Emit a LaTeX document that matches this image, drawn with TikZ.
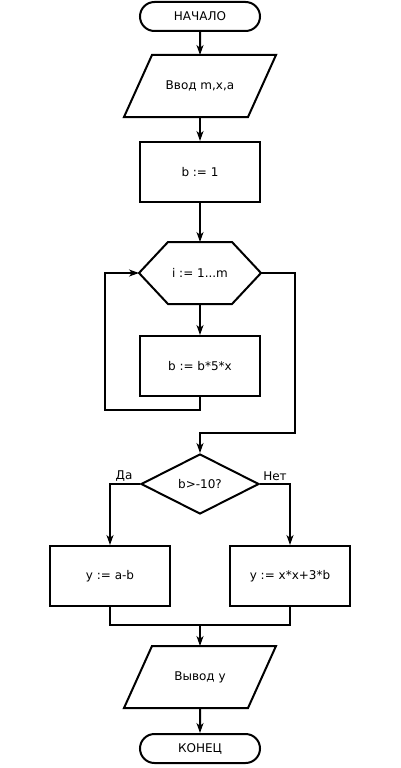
\documentclass[tikz,border=0pt]{standalone}
\usepackage{fontspec}
\setmainfont{DejaVu Sans}
\usetikzlibrary{arrows.meta,shapes.geometric,shapes.misc,calc}

\begin{document}
\begin{tikzpicture}[x=1pt,y=-1pt,
  every node/.style={font=\fontsize{12}{14}\selectfont},
  line/.style={line width=2pt},
  arr/.style={line width=2pt,-{Stealth[length=10pt,width=7pt,inset=3pt]}},
  term/.style={draw,line width=2pt,rounded rectangle,minimum width=120pt,minimum height=29pt,inner sep=0pt},
  io/.style={line width=2pt,minimum width=122pt,minimum height=60pt,inner sep=0pt},
  act/.style={draw,line width=2pt,rectangle,minimum width=120pt,minimum height=60pt,inner sep=0pt},
  cond/.style={draw,line width=2pt,diamond,minimum width=118pt,minimum height=60pt,inner sep=0pt},
  loophead/.style={line width=2pt,minimum width=120pt,minimum height=60pt,inner sep=0pt}]
\fill[white] (0,0) rectangle (400,768);
\node[term] (start) at (200,16.5) {НАЧАЛО};
\node[io] (input) at (200,86) {Ввод m,x,a};
\node[act] (init) at (200,172) {b := 1};
\node[loophead] (loop) at (200,273) {i := 1...m};
\node[act] (body) at (200,366) {b := b*5*x};
\node[cond] (check) at (200,484) {b>-10?};
\node[act] (yes) at (110,576) {y := a-b};
\node[act] (no) at (290,576) {y := x*x+3*b};
\node[io] (output) at (200,677) {Вывод y};
\node[term] (stop) at (200,748.5) {КОНЕЦ};
\node (yeslbl) at (124,476) {Да};
\node (nolbl) at (275,476) {Нет};
\coordinate (back) at (105,410);
\coordinate (exit) at (295,433);
\coordinate (merge) at (200,625);
% parallelograms for input and output
\foreach \p in {input,output}
  \draw[line] ($(\p.north west)+(14,0)$) -- ($(\p.north east)+(14,0)$)
   -- ($(\p.south east)+(-14,0)$) -- ($(\p.south west)+(-14,0)$) -- cycle;
% hexagon of the loop
\draw[line] (loop.west) -- ($(loop.north west)+(29,0)$)
 -- ($(loop.north east)+(-29,0)$) -- (loop.east)
 -- ($(loop.south east)+(-29,0)$) -- ($(loop.south west)+(29,0)$) -- cycle;
\draw[arr] (start)--(input);
\draw[arr] (input)--(init);
\draw[arr] (init)--(loop);
\draw[arr] (loop)--(body);
\draw[arr] (body.south) |- (back) |- (loop.west);
\draw[arr] (loop.east) -| (exit) -| (check.north);
\draw[arr] (check.west) -| (yes.north);
\draw[arr] (check.east) -| (no.north);
\draw[line] (yes.south) |- (merge) -| (no.south);
\draw[arr] (merge)--(output);
\draw[arr] (output)--(stop);
\end{tikzpicture}
\end{document}
